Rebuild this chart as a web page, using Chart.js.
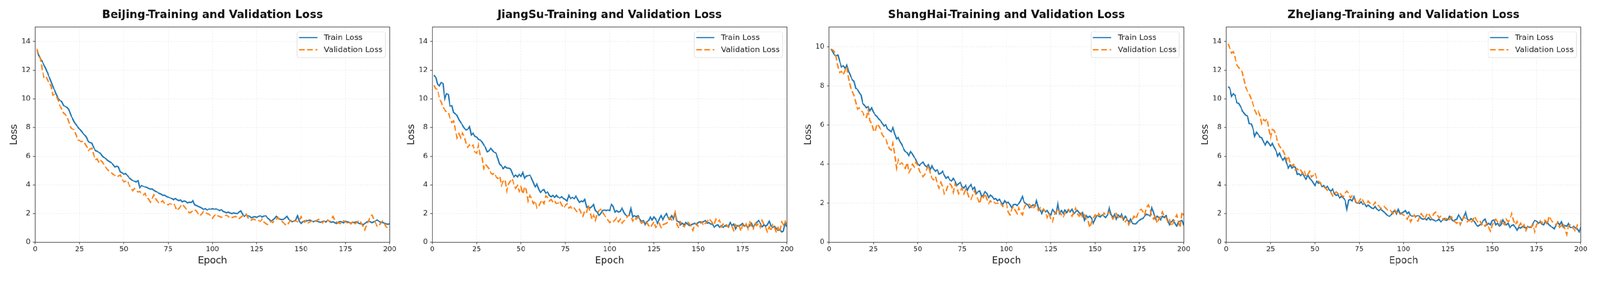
<!DOCTYPE html>
<html>
<head>
<meta charset="utf-8">
<title>Training and Validation Loss</title>
<script src="https://cdn.jsdelivr.net/npm/chart.js@4.4.1/dist/chart.umd.min.js"></script>
<style>
  html, body { margin: 0; padding: 0; background: #fff; overflow: hidden; }
  #wrap { position: absolute; left: 0; top: 0; width: 4375px; height: 757px; transform-origin: 0 0; background: #fff; }
  #wrap canvas { position: absolute; top: 0; }
</style>
</head>
<body>
<div id="wrap">
<canvas id="c0" width="1085" height="757" style="left:0px"></canvas>
<canvas id="c1" width="1085" height="757" style="left:1086px"></canvas>
<canvas id="c2" width="1085" height="757" style="left:2171px"></canvas>
<canvas id="c3" width="1085" height="757" style="left:3257px"></canvas>
</div>
<script>
//Global chart options
Chart.defaults.font.family = "'DejaVu Sans', sans-serif";
Chart.defaults.color = '#222';

//Epoch index for every series
const epochs = Array.from({length: 200}, (_, i) => i + 1);

//Tick values
const xTickValues = [0, 25, 50, 75, 100, 125, 150, 175, 200];
const yTickValues = [0, 2, 4, 6, 8, 10, 12, 14];
const yTickValuesSH = [0, 2, 4, 6, 8, 10];

//BeiJing
const bjTrain = [
  13.4, 13.05, 12.8, 12.6, 12.35, 12.1, 11.8, 11.5, 11.2, 10.85,
  10.6, 10.3, 10.0, 9.9, 9.8, 9.55, 9.45, 9.4, 9.25, 8.9,
  8.65, 8.4, 8.2, 8.05, 7.9, 7.75, 7.6, 7.47, 7.3, 7.0,
  6.95, 6.9, 6.6, 6.4, 6.35, 6.25, 6.17, 6.0, 5.9, 5.8,
  5.7, 5.62, 5.55, 5.4, 5.25, 5.3, 5.25, 4.9, 4.85, 4.75,
  4.8, 4.65, 4.5, 4.4, 4.3, 4.25, 4.2, 4.3, 3.8, 3.95,
  3.9, 3.85, 3.82, 3.75, 3.7, 3.72, 3.62, 3.55, 3.48, 3.4,
  3.35, 3.27, 3.28, 3.2, 3.15, 3.1, 3.05, 2.96, 3.05, 2.96,
  2.9, 2.95, 2.82, 2.88, 2.84, 2.75, 2.8, 2.78, 2.9, 2.6,
  2.55, 2.5, 2.45, 2.38, 2.28, 2.35, 2.25, 2.32, 2.3, 2.35,
  2.3, 2.33, 2.28, 2.2, 2.28, 2.15, 2.1, 2.05, 2.1, 2.04,
  2.0, 2.05, 2.02, 2.0, 2.1, 2.18, 1.95, 1.8, 1.9, 1.85,
  1.8, 1.7, 1.75, 1.78, 1.73, 1.8, 1.85, 1.75, 1.82, 1.85,
  1.7, 1.6, 1.48, 1.55, 1.65, 1.8, 1.7, 1.62, 1.58, 1.6,
  1.68, 1.8, 1.6, 1.5, 1.42, 1.5, 1.55, 1.85, 1.45, 1.3,
  1.42, 1.5, 1.45, 1.52, 1.55, 1.48, 1.42, 1.5, 1.45, 1.42,
  1.38, 1.45, 1.5, 1.4, 1.55, 1.45, 1.38, 1.42, 1.35, 1.3,
  1.38, 1.45, 1.4, 1.35, 1.48, 1.42, 1.38, 1.32, 1.4, 1.36,
  1.42, 1.35, 1.3, 1.28, 1.23, 1.3, 1.4, 1.48, 1.42, 1.36,
  1.42, 1.5, 1.55, 1.45, 1.36, 1.38, 1.32, 1.28, 1.25, 1.3
];
const bjVal = [
  13.5, 13.1, 12.8, 12.0, 11.5, 11.6, 11.3, 11.1, 10.9, 10.25,
  10.3, 10.2, 9.9, 9.5, 9.3, 9.0, 8.9, 8.75, 8.4, 8.0,
  7.9, 7.85, 7.5, 7.15, 7.1, 7.0, 7.05, 6.9, 6.7, 6.4,
  6.5, 6.55, 6.1, 5.75, 5.8, 5.55, 5.7, 5.6, 5.35, 5.2,
  5.05, 4.9, 4.85, 4.75, 4.65, 4.55, 4.6, 4.7, 4.4, 4.2,
  4.25, 4.3, 4.0, 3.8, 3.6, 3.75, 3.65, 3.5, 3.55, 3.35,
  3.3, 3.4, 3.1, 3.0, 2.8, 3.05, 3.3, 3.0, 2.85, 2.72,
  2.8, 2.9, 2.72, 2.65, 2.6, 2.7, 2.65, 2.72, 2.5, 2.22,
  2.35, 2.5, 2.65, 2.5, 2.35, 2.2, 2.05, 2.1, 2.2, 2.28,
  2.15, 2.0, 1.85, 2.0, 2.16, 2.1, 2.0, 1.97, 1.85, 1.67,
  1.85, 1.97, 1.85, 1.78, 1.73, 1.8, 1.85, 1.9, 1.78, 1.67,
  1.72, 1.75, 1.8, 1.7, 1.65, 1.73, 1.85, 1.9, 1.97, 1.7,
  1.6, 1.55, 1.62, 1.58, 1.48, 1.52, 1.45, 1.6, 1.4, 1.3,
  1.23, 1.35, 1.45, 1.36, 1.5, 1.6, 1.73, 1.55, 1.45, 1.36,
  1.25, 1.17, 1.35, 1.5, 1.6, 1.45, 1.5, 1.42, 1.55, 1.8,
  1.5, 1.4, 1.55, 1.35, 1.42, 1.5, 1.38, 1.45, 1.55, 1.6,
  1.45, 1.35, 1.5, 1.4, 1.55, 1.42, 1.6, 1.8, 1.5, 1.4,
  1.35, 1.3, 1.4, 1.5, 1.42, 1.35, 1.45, 1.28, 1.4, 1.23,
  1.35, 1.45, 1.55, 1.3, 1.1, 0.86, 1.2, 1.5, 1.8, 1.9,
  1.6, 1.35, 1.1, 1.2, 1.35, 1.48, 1.3, 1.05, 1.0, 0.86
];

//JiangSu
const jsTrain = [
  11.66, 11.49, 11.0, 10.9, 11.14, 11.07, 9.97, 10.36, 10.31, 9.48,
  9.53, 9.04, 8.94, 8.85, 8.55, 8.36, 8.16, 7.97, 7.82, 7.87,
  8.06, 7.48, 7.62, 7.38, 7.33, 7.18, 7.14, 6.99, 6.79, 6.6,
  6.3, 6.4, 6.55, 6.4, 6.26, 6.2, 5.82, 5.43, 5.33, 5.13,
  5.28, 5.18, 5.18, 5.13, 4.84, 4.55, 4.69, 4.55, 4.74, 4.59,
  4.86, 4.45, 4.6, 4.64, 4.69, 4.45, 4.15, 3.86, 4.06, 3.71,
  3.47, 3.62, 3.67, 3.42, 3.52, 3.27, 3.18, 3.27, 3.13, 3.27,
  3.13, 3.08, 3.18, 3.03, 2.98, 2.88, 3.27, 3.03, 3.13, 3.03,
  3.23, 2.98, 2.79, 2.88, 2.83, 2.98, 2.44, 2.49, 2.39, 2.49,
  2.64, 2.2, 2.1, 1.86, 2.0, 2.2, 2.25, 2.2, 2.25, 2.2,
  2.64, 2.49, 2.1, 2.2, 2.1, 2.15, 2.39, 2.1, 1.91, 1.81,
  1.86, 2.35, 1.76, 1.86, 1.76, 1.86, 1.61, 1.47, 1.52, 1.22,
  1.42, 1.52, 1.76, 1.56, 1.76, 1.61, 1.32, 1.61, 1.86, 1.56,
  1.81, 2.0, 1.71, 1.61, 1.86, 1.61, 2.0, 1.47, 1.42, 1.22,
  1.32, 1.22, 1.37, 1.27, 1.17, 1.22, 1.27, 1.32, 1.22, 1.37,
  1.42, 1.37, 1.42, 1.52, 1.32, 1.37, 1.27, 1.27, 1.03, 1.17,
  1.22, 1.03, 1.17, 1.03, 1.17, 1.12, 1.12, 1.37, 1.17, 1.27,
  0.93, 1.17, 1.12, 1.22, 1.32, 1.12, 1.22, 0.98, 1.17, 1.32,
  1.03, 1.22, 1.37, 1.52, 1.32, 1.07, 1.22, 1.12, 1.22, 1.47,
  1.12, 1.03, 1.12, 0.93, 0.83, 0.88, 0.73, 0.78, 1.32, 1.07
];
const jsVal = [
  10.95, 10.7, 10.65, 10.02, 9.78, 9.43, 9.24, 9.09, 9.04, 8.65,
  8.36, 8.46, 7.82, 7.28, 7.58, 7.28, 7.62, 7.38, 6.89, 6.6,
  6.79, 6.65, 6.79, 6.3, 6.21, 6.79, 6.11, 5.91, 5.13, 5.43,
  5.28, 5.13, 4.84, 4.74, 4.84, 4.55, 4.45, 4.6, 3.96, 4.25,
  4.35, 3.57, 4.06, 4.25, 4.45, 4.06, 3.76, 3.96, 3.52, 3.86,
  3.37, 3.86, 3.67, 2.88, 3.27, 3.08, 2.69, 2.88, 2.39, 2.49,
  2.79, 2.93, 2.69, 3.23, 3.13, 2.88, 2.98, 2.79, 2.88, 2.69,
  2.74, 2.88, 2.59, 2.39, 2.54, 2.69, 2.39, 2.49, 2.3, 2.39,
  2.2, 2.1, 2.3, 2.0, 1.81, 2.2, 2.1, 2.59, 2.1, 1.61,
  1.91, 1.52, 2.0, 2.2, 2.3, 2.1, 1.91, 1.71, 1.56, 1.37,
  1.47, 1.42, 1.56, 1.71, 1.42, 1.61, 1.32, 1.47, 1.61, 1.81,
  1.91, 1.81, 1.47, 1.71, 1.61, 1.76, 1.52, 1.32, 1.42, 1.47,
  1.37, 1.17, 1.03, 1.22, 1.42, 1.03, 1.17, 1.32, 1.03, 1.22,
  1.27, 1.32, 1.42, 1.71, 1.56, 1.76, 2.1, 1.22, 0.98, 1.42,
  1.22, 1.07, 1.27, 1.42, 1.27, 1.12, 0.83, 1.22, 1.32, 1.12,
  1.27, 1.42, 1.17, 1.32, 1.42, 1.66, 1.52, 1.32, 1.22, 1.61,
  1.42, 1.56, 1.07, 1.27, 1.17, 1.22, 1.03, 1.17, 1.12, 0.83,
  1.22, 1.03, 1.17, 0.78, 1.22, 1.03, 1.27, 0.93, 1.47, 1.12,
  0.93, 1.42, 1.17, 1.32, 1.03, 1.52, 1.22, 1.03, 0.73, 1.07,
  0.78, 1.22, 1.03, 0.68, 1.03, 0.73, 1.42, 1.22, 1.47, 1.17
];

//ShangHai
const shTrain = [
  9.89, 9.75, 9.57, 9.53, 9.57, 9.24, 8.96, 9.03, 8.88, 9.06,
  8.74, 8.53, 8.31, 8.24, 7.88, 7.81, 7.66, 7.52, 7.09, 7.01,
  6.87, 6.94, 6.73, 6.87, 6.65, 6.51, 6.44, 6.29, 6.22, 6.08,
  5.94, 6.01, 5.79, 5.72, 5.65, 5.86, 5.54, 5.29, 5.36, 5.14,
  5.0, 4.78, 4.64, 4.57, 4.42, 4.64, 4.5, 4.35, 4.21, 3.99,
  3.92, 4.03, 4.1, 3.92, 3.85, 3.96, 3.71, 3.92, 3.74, 3.63,
  3.71, 3.49, 3.53, 3.63, 3.42, 3.27, 3.35, 3.2, 3.13, 3.27,
  3.13, 2.91, 2.99, 3.06, 2.84, 2.77, 2.91, 2.66, 2.84, 2.95,
  2.7, 2.81, 2.48, 2.59, 2.63, 2.34, 2.41, 2.59, 2.48, 2.27,
  2.41, 2.34, 2.19, 2.23, 2.12, 2.19, 2.05, 1.94, 2.12, 2.01,
  2.05, 1.91, 1.76, 1.91, 1.94, 1.87, 1.98, 2.12, 2.34, 2.05,
  1.98, 1.91, 1.76, 1.83, 1.91, 1.83, 2.12, 1.76, 1.62, 1.47,
  1.69, 1.55, 1.62, 1.47, 1.4, 1.69, 1.55, 1.47, 1.98, 1.47,
  1.62, 1.47, 1.65, 1.51, 1.65, 1.55, 1.69, 1.47, 1.55, 1.62,
  1.51, 1.4, 1.51, 1.12, 1.37, 1.26, 1.33, 1.22, 0.97, 1.19,
  1.37, 1.33, 1.29, 1.4, 1.33, 1.26, 1.4, 1.76, 1.44, 1.26,
  1.44, 1.19, 1.4, 1.29, 1.44, 1.15, 1.33, 1.19, 1.04, 1.19,
  0.97, 0.94, 0.94, 1.04, 1.12, 1.19, 1.22, 1.33, 1.44, 1.4,
  1.33, 1.76, 1.51, 1.19, 1.33, 1.26, 1.15, 1.33, 1.26, 1.37,
  1.12, 0.9, 1.04, 1.15, 0.97, 0.83, 1.04, 1.08, 1.12, 0.86
];
const shVal = [
  9.89, 9.82, 9.75, 9.46, 8.96, 8.67, 8.74, 8.56, 8.81, 8.96,
  8.38, 7.95, 7.73, 7.52, 7.16, 6.8, 6.87, 6.73, 6.65, 6.4,
  6.37, 6.76, 6.22, 6.08, 5.72, 5.65, 6.04, 5.94, 5.79, 5.5,
  5.36, 5.29, 5.0, 4.78, 4.71, 5.07, 4.5, 3.78, 4.21, 3.99,
  4.06, 3.92, 3.78, 4.06, 3.56, 3.71, 3.99, 3.85, 4.1, 3.92,
  3.63, 3.49, 3.35, 3.49, 3.71, 3.92, 3.56, 3.27, 3.2, 3.35,
  2.99, 2.77, 3.06, 2.84, 2.48, 2.63, 2.91, 2.99, 2.91, 2.55,
  2.99, 2.84, 2.48, 2.63, 2.77, 2.48, 2.7, 2.55, 2.27, 2.19,
  2.41, 2.63, 2.37, 2.19, 1.98, 2.41, 2.27, 2.48, 2.19, 1.98,
  2.12, 2.01, 2.05, 1.98, 2.01, 1.91, 1.98, 1.83, 1.91, 1.98,
  1.55, 1.4, 1.69, 1.83, 1.62, 1.47, 1.76, 1.55, 1.4, 1.76,
  1.91, 1.98, 1.94, 1.83, 1.69, 1.91, 1.83, 1.62, 1.76, 1.62,
  1.69, 1.55, 1.26, 1.47, 1.19, 1.04, 1.4, 1.55, 1.69, 1.55,
  1.4, 1.26, 1.47, 1.62, 1.69, 1.47, 1.33, 1.55, 1.76, 1.47,
  1.33, 1.55, 1.26, 1.4, 1.19, 1.12, 0.76, 1.04, 1.19, 1.4,
  1.26, 1.47, 1.37, 1.33, 1.51, 1.4, 1.47, 1.55, 1.37, 1.19,
  1.33, 1.47, 1.26, 1.19, 1.33, 1.15, 1.04, 1.19, 0.9, 1.08,
  1.15, 1.33, 1.19, 1.44, 1.62, 1.69, 1.55, 1.4, 1.76, 1.91,
  1.69, 1.33, 1.19, 1.4, 0.97, 1.19, 1.33, 1.55, 1.33, 1.26,
  1.04, 1.15, 0.83, 0.97, 1.19, 1.4, 1.04, 0.76, 1.55, 1.37
];

//ZheJiang
const zjTrain = [
  10.85, 10.75, 10.17, 10.36, 10.22, 9.73, 9.68, 9.48, 9.19, 8.99,
  8.85, 8.8, 8.26, 8.26, 7.97, 7.38, 7.67, 7.53, 7.33, 7.28,
  6.99, 6.79, 7.04, 6.89, 6.7, 6.89, 6.6, 6.4, 6.01, 6.21,
  5.91, 5.72, 5.91, 5.52, 5.18, 5.38, 5.18, 5.28, 5.23, 4.74,
  4.79, 4.64, 4.84, 4.55, 4.4, 4.69, 4.45, 4.35, 4.15, 3.96,
  4.25, 4.11, 4.15, 3.86, 3.96, 3.76, 3.91, 3.67, 3.57, 3.71,
  3.37, 3.27, 3.32, 3.08, 3.23, 3.08, 2.93, 2.3, 2.93, 2.98,
  2.88, 3.18, 2.79, 2.74, 2.69, 2.83, 2.64, 2.69, 2.49, 2.59,
  2.49, 2.39, 2.35, 2.49, 2.3, 2.2, 2.3, 2.2, 2.1, 2.0,
  1.86, 1.81, 1.91, 2.1, 2.2, 1.96, 2.3, 2.0, 2.05, 2.1,
  2.2, 2.0, 2.1, 1.86, 1.81, 1.86, 1.81, 1.86, 1.81, 1.66,
  1.61, 1.66, 1.56, 1.71, 1.56, 1.61, 1.56, 1.47, 1.52, 1.61,
  1.42, 1.56, 1.66, 1.52, 1.61, 1.81, 1.61, 1.47, 1.56, 1.61,
  1.91, 1.71, 1.52, 1.81, 2.1, 1.61, 1.52, 1.66, 1.56, 1.42,
  1.22, 1.12, 1.22, 1.27, 1.52, 1.61, 1.22, 1.32, 1.22, 1.52,
  1.56, 1.22, 1.32, 1.12, 1.22, 1.56, 1.32, 1.22, 1.32, 1.03,
  1.17, 1.22, 1.03, 0.83, 1.03, 0.98, 1.12, 1.03, 0.98, 1.12,
  1.03, 1.03, 1.32, 1.52, 1.47, 1.32, 1.42, 1.27, 1.22, 1.47,
  1.37, 1.22, 1.12, 1.03, 0.93, 1.22, 1.37, 1.22, 1.42, 1.03,
  1.17, 1.12, 1.32, 1.03, 1.03, 1.12, 0.98, 0.93, 0.73, 1.07
];
const zjVal = [
  13.83, 13.54, 13.2, 13.29, 12.85, 12.37, 12.17, 12.07, 11.88, 11.34,
  10.8, 10.51, 10.31, 10.02, 9.68, 9.24, 8.94, 9.14, 8.85, 8.26,
  8.55, 8.46, 8.6, 7.87, 7.28, 7.87, 7.77, 7.48, 6.99, 6.7,
  6.5, 6.4, 6.11, 5.72, 6.01, 5.52, 5.33, 5.43, 5.03, 5.13,
  4.94, 5.03, 4.79, 4.99, 4.55, 4.74, 4.94, 4.55, 4.64, 4.84,
  4.45, 4.25, 4.11, 3.96, 3.86, 3.76, 3.62, 3.57, 3.47, 3.23,
  3.37, 3.52, 3.37, 3.47, 3.27, 3.18, 3.42, 3.57, 3.42, 3.08,
  3.23, 3.03, 2.88, 2.64, 2.88, 3.08, 2.93, 2.69, 2.64, 2.88,
  2.74, 2.69, 2.59, 2.79, 2.59, 2.54, 2.39, 2.35, 2.49, 2.39,
  2.25, 2.3, 2.15, 2.0, 2.25, 2.05, 2.1, 1.96, 2.0, 1.91,
  1.81, 1.61, 1.81, 1.42, 1.71, 1.91, 1.66, 1.47, 1.76, 2.0,
  1.81, 1.61, 1.91, 2.05, 1.76, 1.66, 2.0, 2.1, 1.91, 1.71,
  1.81, 1.66, 1.56, 1.66, 1.52, 1.61, 1.76, 1.52, 1.42, 1.32,
  1.47, 1.22, 1.52, 1.76, 1.66, 1.42, 1.56, 1.32, 1.52, 1.81,
  1.56, 1.42, 1.52, 1.22, 1.32, 1.12, 1.32, 1.03, 0.78, 1.22,
  1.42, 1.61, 1.42, 1.22, 1.52, 1.32, 1.22, 1.61, 1.42, 1.61,
  2.0, 1.52, 1.22, 1.47, 1.12, 1.32, 1.03, 1.22, 0.83, 1.12,
  1.17, 1.03, 1.22, 0.73, 1.22, 1.42, 1.52, 1.32, 1.56, 1.52,
  1.22, 1.81, 1.61, 1.42, 1.32, 1.22, 1.42, 1.03, 1.17, 1.32,
  0.93, 0.54, 1.12, 1.22, 1.03, 0.93, 0.73, 1.22, 1.27, 1.27
];

//Fit the 4375px wide figure into whatever viewport we get
const fitScale = window.innerWidth / 4375;
document.getElementById('wrap').style.transform = 'scale(' + fitScale + ')';
const backingRatio = (window.devicePixelRatio || 1) * fitScale;

//Axes frame on all four sides, like matplotlib spines
const framePlugin = {
  id: 'frame',
  afterDatasetsDraw(chart) {
    const {ctx, chartArea: a} = chart;
    ctx.save();
    ctx.strokeStyle = '#333';
    ctx.lineWidth = 1.5;
    ctx.strokeRect(a.left, a.top, a.right - a.left, a.bottom - a.top);
    ctx.restore();
  }
};

//Boxed legend in the upper right corner of the plot
const boxLegendPlugin = {
  id: 'boxLegend',
  afterDraw(chart) {
    const {ctx, chartArea: a} = chart;
    const x0 = a.right - 253, y0 = a.top + 13, w = 241, h = 70;
    ctx.save();
    ctx.beginPath();
    if (ctx.roundRect) ctx.roundRect(x0, y0, w, h, 5); else ctx.rect(x0, y0, w, h);
    ctx.fillStyle = 'rgba(255,255,255,0.8)';
    ctx.fill();
    ctx.strokeStyle = '#d3d3d3';
    ctx.lineWidth = 1.2;
    ctx.stroke();
    chart.data.datasets.forEach(function(ds, i) {
      const y = y0 + 15.5 + i * 33.5;
      ctx.beginPath();
      ctx.setLineDash(ds.borderDash || []);
      ctx.strokeStyle = ds.borderColor;
      ctx.lineWidth = ds.borderWidth;
      ctx.moveTo(x0 + 5, y);
      ctx.lineTo(x0 + 55, y);
      ctx.stroke();
      ctx.setLineDash([]);
      ctx.fillStyle = '#222';
      ctx.font = "21.5px 'DejaVu Sans', sans-serif";
      ctx.textBaseline = 'middle';
      ctx.textAlign = 'left';
      ctx.fillText(ds.label, x0 + 73, y + 1);
    });
    ctx.restore();
  }
};

//Create the configuration for one panel
function buildChart(city, trainData, valData, yMax, yTicks) {
  const gridOpts = {
    color: '#e4e4e4',
    lineWidth: 1,
    tickColor: '#333',
    tickWidth: 1.5,
    tickLength: 6,
    tickBorderDash: []
  };
  return {
    type: 'line',
    data: {
      labels: epochs,
      datasets: [
        {
          label: 'Train Loss',
          data: trainData,
          borderColor: '#1f77b4',
          borderWidth: 3.6,
          order: 1
        },
        {
          label: 'Validation Loss',
          data: valData,
          borderColor: '#ff7f0e',
          borderWidth: 3.6,
          borderDash: [15.5, 7],
          order: 0
        }
      ]
    },
    options: {
      responsive: false,
      animation: false,
      devicePixelRatio: backingRatio,
      events: [],
      layout: {padding: {left: 0, right: 18, top: 0, bottom: 0}},
      elements: {
        line: {tension: 0, fill: false},
        point: {radius: 0}
      },
      plugins: {
        legend: {display: false},
        tooltip: {enabled: false},
        title: {
          display: true,
          text: city + '-Training and Validation Loss',
          color: '#111',
          fullSize: false,
          font: {size: 30, weight: 'bold'},
          padding: {top: 23, bottom: 15}
        }
      },
      scales: {
        x: {
          type: 'linear',
          min: 0,
          max: 200,
          afterBuildTicks: s => { s.ticks = xTickValues.map(v => ({value: v})); },
          afterFit: s => { s.height = 96; },
          ticks: {font: {size: 19}, color: '#222', padding: 2, maxRotation: 0, autoSkip: false},
          grid: gridOpts,
          border: {display: false, dash: [5, 3]},
          title: {display: true, text: 'Epoch', color: '#222', font: {size: 26}, padding: {top: 0, bottom: 29}}
        },
        y: {
          type: 'linear',
          min: 0,
          max: yMax,
          afterBuildTicks: s => { s.ticks = yTicks.map(v => ({value: v})); },
          afterFit: s => { s.width = 96; },
          ticks: {font: {size: 19}, color: '#222', padding: 7, autoSkip: false},
          grid: gridOpts,
          border: {display: false, dash: [5, 3]},
          title: {display: true, text: 'Loss', color: '#222', font: {size: 26}, padding: {top: 24, bottom: 0}}
        }
      }
    },
    plugins: [framePlugin, boxLegendPlugin]
  };
}

//Build the charts
new Chart(document.getElementById('c0'), buildChart('BeiJing', bjTrain, bjVal, 15, yTickValues));
new Chart(document.getElementById('c1'), buildChart('JiangSu', jsTrain, jsVal, 15, yTickValues));
new Chart(document.getElementById('c2'), buildChart('ShangHai', shTrain, shVal, 11, yTickValuesSH));
new Chart(document.getElementById('c3'), buildChart('ZheJiang', zjTrain, zjVal, 15, yTickValues));
</script>
</body>
</html>
